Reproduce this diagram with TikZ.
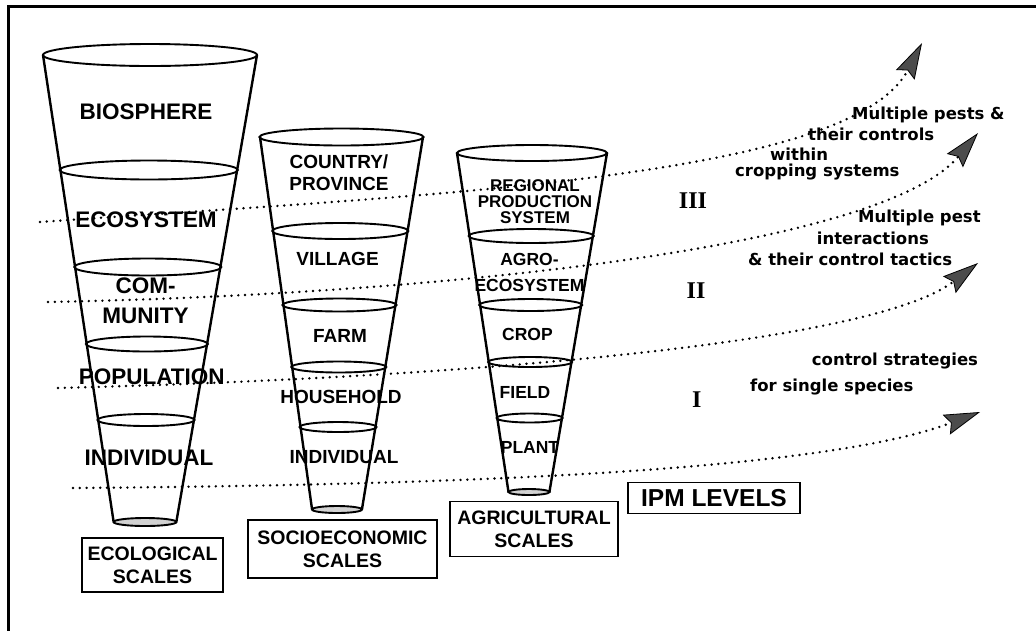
\documentclass[tikz,border=0pt]{standalone}
\usepackage{fontspec}
\setmainfont{Liberation Sans}
\newfontfamily\dvsans{DejaVu Sans}
\newfontfamily\tserif{Liberation Serif}
\usetikzlibrary{arrows.meta}
\begin{document}
\begin{tikzpicture}[x=1pt,y=-1pt,
  side/.style={line width=2.4pt, line cap=round},
  ring/.style={line width=1.9pt},
  lab/.style={inner sep=0pt, align=center},
  capA/.style={lab, font=\bfseries\fontsize{22.5}{30}\selectfont},
  capB/.style={lab, font=\bfseries\fontsize{19}{22.4}\selectfont},
  capC/.style={lab, font=\bfseries\fontsize{17}{15.6}\selectfont},
  scalebox/.style={lab, draw, line width=1.8pt, font=\bfseries\fontsize{19.5}{22.7}\selectfont},
  note/.style={inner sep=0pt, anchor=base west, font=\dvsans\bfseries\fontsize{16.5}{18}\selectfont},
  roman/.style={inner sep=0pt, anchor=base, font=\tserif\bfseries\fontsize{24}{26}\selectfont},
  dotarrow/.style={line width=2.7pt, line cap=round, dash pattern=on 0pt off 6.8pt,
    -{Stealth[length=36pt, width=21pt, inset=5pt, fill=black!70, line width=0.8pt]}}
]
\useasboundingbox (0,0) rectangle (1036,630);
\fill[white] (0,0) rectangle (1036,630);
% frame
\draw[line width=3.3pt] (8.5,640) -- (8.5,6.5) -- (1040,6.5);

% ---------- cone 1 : ecological ----------
\draw[side] (43,55) -- (113.5,521);
\draw[side] (257,55) -- (176.5,521);
\draw[ring] (150,55) ellipse [x radius=107pt, y radius=11pt];
\draw[ring] (148.8,170) ellipse [x radius=89pt, y radius=9.5pt];
\draw[ring] (147.8,267) ellipse [x radius=73.5pt, y radius=8.5pt];
\draw[ring] (146.9,344) ellipse [x radius=61pt, y radius=7.5pt];
\draw[ring] (146,420) ellipse [x radius=48.5pt, y radius=6pt];
\draw[ring, fill=gray!35] (145,522) ellipse [x radius=31.5pt, y radius=4pt];
\node[capA] (bio) at (146,111.7) {BIOSPHERE};
\node[capA] (eco) at (146,220) {ECOSYSTEM};
\node[capA] (com) at (145.5,300.5) {COM-\\MUNITY};
\node[capA] (pop) at (151.7,376.7) {POPULATION};
\node[capA] (indA) at (149,458.3) {INDIVIDUAL};

% ---------- cone 2 : socioeconomic ----------
\draw[side] (260,137) -- (312,509);
\draw[side] (423,137) -- (362,509);
\draw[ring] (341.5,137) ellipse [x radius=82pt, y radius=8.5pt];
\draw[ring] (340.3,231) ellipse [x radius=68pt, y radius=8pt];
\draw[ring] (339.5,305) ellipse [x radius=57pt, y radius=6.5pt];
\draw[ring] (338.8,367) ellipse [x radius=47.5pt, y radius=5.5pt];
\draw[ring] (338,427) ellipse [x radius=38.5pt, y radius=5pt];
\draw[ring, fill=gray!35] (337,509.5) ellipse [x radius=25pt, y radius=3.5pt];
\node[capB] (country) at (339,172.8) {COUNTRY/\\PROVINCE};
\node[capB] (village) at (337.5,259) {VILLAGE};
\node[capB] (farm) at (340,335.8) {FARM};
\node[capB] (house) at (341,396.7) {HOUSEHOLD};
\node[capB] (indB) at (344,457.5) {INDIVIDUAL};

% ---------- cone 3 : agricultural ----------
\draw[side] (457,153) -- (508.5,492);
\draw[side] (607,153) -- (549.4,492);
\draw[ring] (532,153) ellipse [x radius=75pt, y radius=8pt];
\draw[ring] (531.2,236) ellipse [x radius=62.5pt, y radius=7pt];
\draw[ring] (530.7,305) ellipse [x radius=51.5pt, y radius=6pt];
\draw[ring] (530.1,362) ellipse [x radius=42pt, y radius=5pt];
\draw[ring] (529.6,418) ellipse [x radius=33pt, y radius=4.5pt];
\draw[ring, fill=gray!35] (529,492) ellipse [x radius=20.5pt, y radius=3pt];
\node[capC] (regional) at (535,201.7) {REGIONAL\\PRODUCTION\\SYSTEM};
\node[capC, font=\bfseries\fontsize{17.5}{26.3}\selectfont] (agro) at (529.5,272.4) {AGRO-\\ECOSYSTEM};
\node[capC, font=\bfseries\fontsize{17.5}{20}\selectfont] (crop) at (527.5,334) {CROP};
\node[capC, font=\bfseries\fontsize{17.5}{20}\selectfont] (field) at (525,392.5) {FIELD};
\node[capC, font=\bfseries\fontsize{17.5}{20}\selectfont] (plant) at (530,447.5) {PLANT};

% ---------- scale boxes ----------
\node[scalebox, minimum width=141pt, minimum height=54pt] (ecol) at (152.5,565) {ECOLOGICAL\\SCALES};
\node[scalebox, minimum width=189pt, minimum height=58pt] (socio) at (342.5,549) {SOCIOECONOMIC\\SCALES};
\node[scalebox, minimum width=168pt, minimum height=55pt] (agri) at (534,529) {AGRICULTURAL\\SCALES};
\node[scalebox, minimum width=172pt, minimum height=31pt, font=\bfseries\fontsize{24.5}{26}\selectfont] (ipm) at (714,498) {IPM LEVELS};

% ---------- IPM level arrows ----------
\coordinate (s1) at (40,222);   \coordinate (t1) at (922,43);
\coordinate (s2) at (48,302);   \coordinate (t2) at (978,133);
\coordinate (s3) at (58,388);   \coordinate (t3) at (978,263);
\coordinate (s4) at (73,488);   \coordinate (t4) at (980,412);
\draw[dotarrow] (s1) .. controls (420,195) and (850,180) .. (t1);
\draw[dotarrow] (s2) .. controls (420,295) and (880,250) .. (t2);
\draw[dotarrow] (s3) .. controls (450,378) and (870,345) .. (t3);
\draw[dotarrow] (s4) .. controls (450,485) and (820,472) .. (t4);

% ---------- level numerals ----------
\node[roman] (lvIII) at (693,208.3) {III};
\node[roman] (lvII) at (696,298.3) {II};
\node[roman] (lvI) at (696.7,407.5) {I};

% ---------- level descriptions ----------
\node[note] (n1a) at (852,119.3) {Multiple pests \&};
\node[note] (n1b) at (808,140) {their controls};
\node[note] (n1c) at (770,160.7) {within};
\node[note] (n1d) at (735,176.7) {cropping systems};
\node[note] (n2a) at (858,222.3) {Multiple pest};
\node[note] (n2b) at (816.7,244) {interactions};
\node[note] (n2c) at (748,265) {\& their control tactics};
\node[note] (n3a) at (811.7,365) {control strategies};
\node[note] (n3b) at (750,391.7) {for single species};
\end{tikzpicture}
\end{document}
